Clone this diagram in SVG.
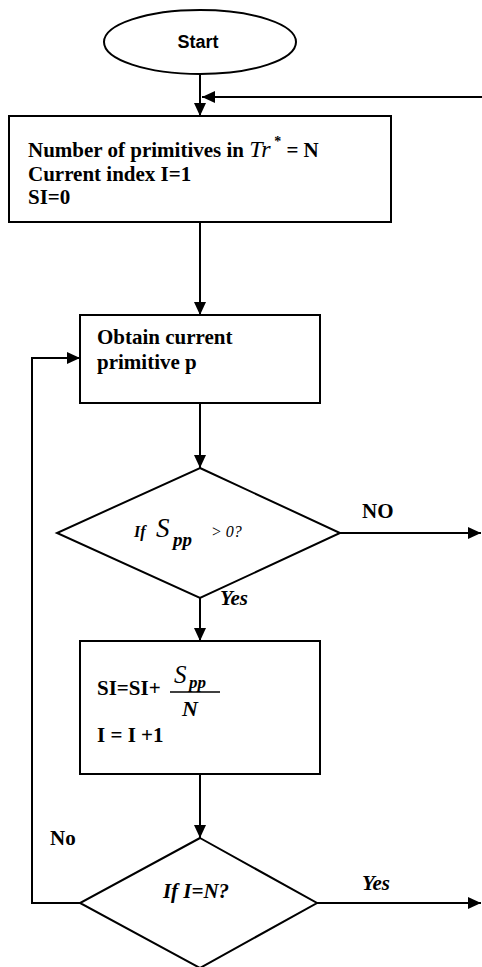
<svg xmlns="http://www.w3.org/2000/svg" width="482" height="967" viewBox="0 0 482 967">
<style>
.shape{fill:#fff;stroke:#000;stroke-width:2}
.ln{fill:none;stroke:#000;stroke-width:2}
.t{font-family:"Liberation Serif","Times New Roman",serif;font-weight:bold;font-size:21px;fill:#000}
.it{font-family:"Liberation Serif","Times New Roman",serif;font-style:italic;fill:#000}
.st{font-family:"Liberation Sans",Arial,sans-serif;font-weight:bold;font-size:18px;fill:#000}
</style>
<defs>
<marker id="ah" markerUnits="userSpaceOnUse" markerWidth="14" markerHeight="12" refX="13" refY="6" orient="auto">
<path d="M0,0 L13,6 L0,12 z" fill="#000"/>
</marker>
</defs>
<rect width="482" height="967" fill="#fff"/>
<g id="connectors">
<line class="ln" x1="200" y1="74" x2="200" y2="116" marker-end="url(#ah)"/>
<line class="ln" x1="482" y1="97" x2="202" y2="97" marker-end="url(#ah)"/>
<line class="ln" x1="200" y1="222" x2="200" y2="315" marker-end="url(#ah)"/>
<line class="ln" x1="200" y1="403" x2="200" y2="468" marker-end="url(#ah)"/>
<line class="ln" x1="340" y1="533" x2="481" y2="533" marker-end="url(#ah)"/>
<line class="ln" x1="200" y1="598" x2="200" y2="641" marker-end="url(#ah)"/>
<line class="ln" x1="200" y1="774" x2="200" y2="838" marker-end="url(#ah)"/>
<line class="ln" x1="317" y1="903" x2="481" y2="903" marker-end="url(#ah)"/>
<polyline class="ln" points="80,903 32,903 32,358 80,358" marker-end="url(#ah)"/>
<text class="t" x="362" y="518" font-weight="normal">NO</text>
<text class="t" x="220" y="605" font-style="italic" font-size="19px">Yes</text>
<text class="t" x="50" y="845" font-size="20px">No</text>
<text class="t" x="362" y="890" font-style="italic" font-size="20px">Yes</text>
</g>
<g id="start">
<ellipse class="shape" cx="200" cy="42" rx="96" ry="32"/>
<text class="st" x="198" y="48" text-anchor="middle">Start</text>
</g>
<g id="init">
<rect class="shape" x="9" y="116" width="382" height="106"/>
<text class="t" x="28" y="157">Number of primitives in <tspan class="it" font-weight="normal" font-size="24px">Tr</tspan><tspan font-size="14px" dy="-11"> *</tspan><tspan dy="11"> = N</tspan></text>
<text class="t" x="28" y="181">Current index I=1</text>
<text class="t" x="28" y="204">SI=0</text>
</g>
<g id="obtain">
<rect class="shape" x="80" y="315" width="240" height="88"/>
<text class="t" x="97" y="344">Obtain current</text>
<text class="t" x="97" y="369">primitive p</text>
</g>
<g id="check-spp">
<polygon class="shape" points="200,468 340,533 200,598 57,533"/>
<text class="it" x="134" y="537" font-size="16px" font-weight="bold">If</text>
<text class="it" x="156" y="537" font-size="27px">S</text>
<text class="it" x="173" y="546" font-size="19px" font-weight="bold">pp</text>
<text class="it" x="211" y="537" font-size="16px">&gt; 0?</text>
</g>
<g id="update">
<rect class="shape" x="80" y="641" width="240" height="133"/>
<text class="t" x="97" y="695">SI=SI+</text>
<text class="it" x="174" y="683" font-size="25px">S</text>
<text class="it" x="189" y="688" font-size="17px" font-weight="bold">pp</text>
<line x1="170" y1="692" x2="220" y2="692" stroke="#000" stroke-width="1.5"/>
<text class="it" x="182" y="716" font-size="22px" font-weight="bold">N</text>
<text class="t" x="97" y="742">I = I +1</text>
</g>
<g id="check-end">
<polygon class="shape" points="200,838 317,903 200,968 80,903"/>
<text class="t" x="196" y="898" font-style="italic" text-anchor="middle">If I=N?</text>
</g>
</svg>
